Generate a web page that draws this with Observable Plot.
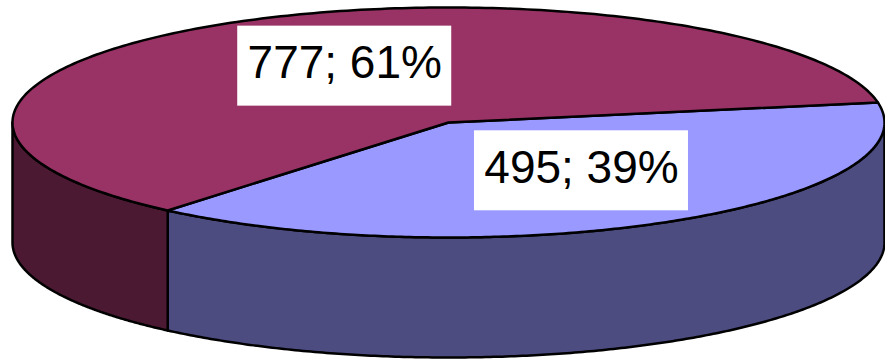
<!DOCTYPE html>
<html>
<head>
<meta charset="utf-8">
<script src="https://cdn.jsdelivr.net/npm/d3@7"></script>
<script src="https://cdn.jsdelivr.net/npm/@observablehq/plot@0.6"></script>
<style>
  html, body { margin: 0; padding: 0; background: #fff; }
  #chart svg { display: block; }
</style>
</head>
<body>
<div id="chart"></div>
<script>
// ---- data ----
const categories = ["Series B", "Series A"];
const values = [495, 777];
const topColors = ["#9999FF", "#993366"];
const sideColors = ["#4C4C80", "#4C1933"];

// ---- layout (style, not data) ----
const startDeg = -10;            // rotation of first slice (screen param angle)
const depth = 120 / 115;         // wall depth in ellipse-y units
const labelPos = [[0.305, 0.42], [-0.238, -0.49]];
const boxHalfW = 107 / 436, boxHalfH = 40 / 115;

const total = d3.sum(values);
let acc = startDeg * Math.PI / 180;
const slices = values.map((v, i) => {
  const a0 = acc, a1 = acc + v / total * 2 * Math.PI;
  acc = a1;
  return {i, v, a0, a1, pct: Math.round(v / total * 100)};
});

function arc(a0, a1, n = 240) {
  return d3.range(n + 1).map(k => a0 + (a1 - a0) * k / n);
}
function topPoly(s) {
  return [{x: 0, y: 0}, ...arc(s.a0, s.a1).map(t => ({x: Math.cos(t), y: Math.sin(t)}))];
}
function wallPoly(a0, a1) {
  const ts = arc(a0, a1);
  return [
    ...ts.map(t => ({x: Math.cos(t), y: Math.sin(t)})),
    ...ts.slice().reverse().map(t => ({x: Math.cos(t), y: Math.sin(t) + depth}))
  ];
}

const marks = [];
// front walls: visible param range [0, PI]
for (const s of slices) {
  // handle wrap: consider angles shifted by 2PI
  for (const shift of [0, 2 * Math.PI, -2 * Math.PI]) {
    const a0 = Math.max(s.a0 + shift, 0), a1 = Math.min(s.a1 + shift, Math.PI);
    if (a1 > a0 + 1e-6) {
      marks.push(Plot.line(wallPoly(a0, a1), {x: "x", y: "y", curve: "linear-closed",
        fill: sideColors[s.i], stroke: "black", strokeWidth: 2.5, strokeLinejoin: "round"}));
    }
  }
}
// top faces
for (const s of slices) {
  marks.push(Plot.line(topPoly(s), {x: "x", y: "y", curve: "linear-closed",
    fill: topColors[s.i], stroke: "black", strokeWidth: 2.5, strokeLinejoin: "round"}));
}
// labels
const labels = slices.map(s => ({
  text: `${s.v}; ${s.pct}%`, x: labelPos[s.i][0], y: labelPos[s.i][1]
}));
marks.push(Plot.rect(labels, {x1: d => d.x - boxHalfW, x2: d => d.x + boxHalfW,
  y1: d => d.y - boxHalfH, y2: d => d.y + boxHalfH, fill: "white"}));
marks.push(Plot.text(labels, {x: "x", y: "y", text: "text", fontSize: 46,
  fill: "black", dy: -3}));

const chart = Plot.plot({
  width: 885, height: 360,
  marginLeft: 12, marginRight: 1, marginTop: 7, marginBottom: 3,
  style: {fontFamily: "'Liberation Sans', Arial, sans-serif", background: "white"},
  x: {domain: [-1, 1], axis: null},
  y: {domain: [-1, 1 + depth], range: [7, 357], axis: null},
  marks
});
document.getElementById("chart").appendChild(chart);
</script>
</body>
</html>
